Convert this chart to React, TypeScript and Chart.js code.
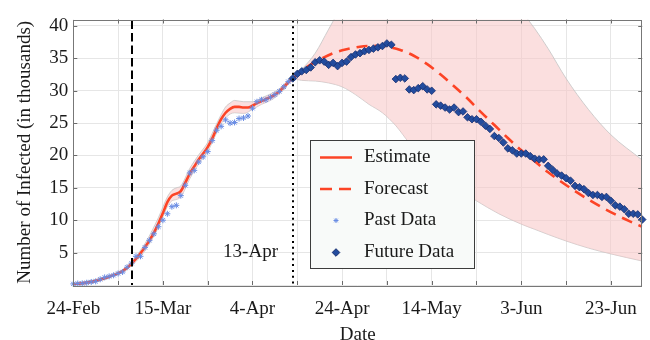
import React, { useEffect, useRef } from 'react';
import { Chart, registerables } from 'chart.js';

Chart.register(...registerables);

// ---------- data ----------
const xTickDays = [0, 20, 40, 60, 80, 100, 120];
const xTickLabels = ['24-Feb', '15-Mar', '4-Apr', '24-Apr', '14-May', '3-Jun', '23-Jun'];
const yTickValues = [5, 10, 15, 20, 25, 30, 35, 40];
const xMaxDay = 127;
const yMax = 41;

const lockdownDay = 13;
const forecastStartDay = 49;
const forecastStartLabel = '13-Apr';

const legendLabels = ['Estimate', 'Forecast', 'Past Data', 'Future Data'];

// Past data: days 0..49
const pastStartDay = 0;
const pastValues = [
  0.17, 0.23, 0.25, 0.35, 0.47, 0.56, 0.88, 1.18, 1.33, 1.5,
  1.78, 2.01, 2.74, 3.37, 4.43, 4.43, 5.8, 6.9, 7.9, 9.0,
  10.0, 11.0, 12.1, 12.3, 13.8, 15.4, 17.3, 17.7, 19.0, 19.8,
  20.6, 22.3, 23.9, 24.5, 25.5, 25.0, 25.1, 25.7, 25.8, 26.1,
  27.3, 28.3, 28.6, 28.6, 29.0, 29.4, 29.9, 30.6, 31.4, 31.9,
];

// Estimate: days 0..49
const estimateStartDay = 0;
const estimateValues = [
  0.1, 0.18, 0.27, 0.37, 0.5, 0.65, 0.85, 1.05, 1.28, 1.52,
  1.8, 2.15, 2.65, 3.3, 4.05, 4.9, 5.85, 6.9, 8.1, 9.5,
  11.1, 12.8, 13.8, 14.1, 14.5, 15.8, 17.2, 18.3, 19.4, 20.3,
  21.3, 22.6, 24.2, 25.6, 26.6, 27.2, 27.5, 27.5, 27.4, 27.4,
  27.7, 28.1, 28.4, 28.7, 29.0, 29.4, 29.9, 30.6, 31.3, 31.9,
];

const estBandDays = [0, 4, 8, 12, 16, 19, 21, 22, 23, 24, 26, 28, 30, 32, 33, 34, 35, 36, 38, 40, 42, 44, 46, 48, 49];
const estBandUpper = [0.3, 0.7, 1.5, 2.9, 6.4, 10.4, 13.6, 14.6, 15.0, 15.3, 18.0, 20.1, 22.0, 24.9, 26.3, 27.5, 28.1, 28.5, 28.3, 28.3, 28.9, 29.5, 30.3, 31.6, 31.9];
const estBandLower = [0.0, 0.3, 1.1, 2.4, 5.3, 8.9, 12.1, 13.0, 13.2, 13.6, 16.4, 18.7, 20.6, 23.5, 24.9, 25.8, 26.4, 26.6, 26.5, 27.1, 27.9, 28.5, 29.5, 31.0, 31.9];

// Forecast
const forecastDays = [49, 52, 55, 58, 61, 64, 67, 70, 73, 76, 79, 82, 85, 88, 91, 94, 97, 100, 103, 106, 109, 112, 115, 118, 121, 124, 127];
const forecastValues = [31.9, 33.6, 34.8, 35.8, 36.4, 36.8, 36.95, 36.8, 36.3, 35.4, 34.1, 32.5, 30.7, 28.8, 26.7, 24.7, 22.7, 20.8, 19.1, 17.4, 15.9, 14.5, 13.2, 12.0, 10.9, 9.9, 9.0];

const fcBandDays = [49, 51, 54, 57, 60, 63, 66, 69, 72, 75, 80, 85, 90, 95, 100, 103, 106, 110, 115, 120, 127];
const fcBandUpper = [31.9, 33.3, 35.8, 39.5, 43.2, 46.5, 49.3, 51.5, 53.2, 54.3, 54.7, 53.4, 50.6, 46.2, 42.3, 39.6, 36.5, 31.9, 27.1, 23.2, 19.3];
const fcBandLower = [31.9, 31.6, 31.5, 31.2, 30.6, 29.4, 27.9, 26.6, 24.6, 21.9, 17.6, 15.3, 13.0, 11.0, 9.4, 8.6, 7.8, 6.8, 5.7, 4.8, 3.7];

// Future data: days 49..127
const futureStartDay = 49;
const futureValues = [
  31.9, 32.6, 33.0, 33.2, 33.6, 34.4, 34.7, 34.5, 34.0, 34.3,
  33.8, 34.3, 34.5, 35.2, 35.6, 35.8, 36.1, 36.3, 36.5, 36.7,
  36.9, 37.3, 37.1,
  31.8, 32.0, 31.9, 30.2, 30.1, 30.4, 30.7, 30.2, 30.0,
  27.9, 27.7, 27.4, 27.1, 27.4, 26.7, 26.8, 25.9, 25.6, 25.6,
  25.2, 24.6, 24.1, 23.0, 22.7, 22.0, 21.1, 20.8, 20.3, 20.3,
  20.3, 19.9, 19.5, 19.4, 19.4, 18.4, 17.8, 17.2, 16.9, 16.5,
  16.1, 15.3, 15.1, 14.8, 14.2, 13.9, 13.9, 13.6, 13.6, 13.0,
  12.3, 12.1, 11.7, 11.0, 11.0, 10.9, 10.1,
];

// ---------- styles ----------
const FONT = "'Liberation Serif', 'Times New Roman', serif";
const TEXT = '#1a1a1a';
const GRID = '#e6e6e6';
const RED = 'rgb(252, 68, 38)';
const PINK = 'rgba(248, 196, 196, 0.55)';
const BAND_EDGE = '#c4c4c4';
const PAST = 'rgb(105, 140, 228)';
const FUTURE_FILL = 'rgb(35, 76, 158)';
const FUTURE_EDGE = 'rgb(22, 46, 112)';

const seq = (start: number, vals: number[]) => vals.map((v, i) => ({ x: start + i, y: v }));
const pair = (days: number[], vals: number[]) => vals.map((v, i) => ({ x: days[i], y: v }));

function drawStar(ctx: CanvasRenderingContext2D, x: number, y: number, r: number) {
  ctx.beginPath();
  ctx.moveTo(x, y - r); ctx.lineTo(x, y + r);
  ctx.moveTo(x - r, y); ctx.lineTo(x + r, y);
  const d = r * Math.SQRT1_2;
  ctx.moveTo(x - d, y - d); ctx.lineTo(x + d, y + d);
  ctx.moveTo(x - d, y + d); ctx.lineTo(x + d, y - d);
  ctx.stroke();
}

function drawDiamond(ctx: CanvasRenderingContext2D, x: number, y: number, r: number) {
  ctx.beginPath();
  ctx.moveTo(x, y - r); ctx.lineTo(x + r, y); ctx.lineTo(x, y + r); ctx.lineTo(x - r, y);
  ctx.closePath();
  ctx.fill();
  ctx.stroke();
}

const overlayPlugin = {
  id: 'overlay',
  afterDatasetsDraw(chart: any) {
    const { ctx, chartArea: a, scales } = chart;
    const xs = scales.x;
    ctx.save();
    ctx.strokeStyle = '#000';
    ctx.lineWidth = 2;
    const lx = Math.round(xs.getPixelForValue(lockdownDay));
    ctx.setLineDash([8.5, 4]);
    ctx.beginPath(); ctx.moveTo(lx, a.top + 1); ctx.lineTo(lx, a.bottom); ctx.stroke();
    const fx = Math.round(xs.getPixelForValue(forecastStartDay));
    ctx.setLineDash([2, 3.8]);
    ctx.beginPath(); ctx.moveTo(fx, a.top + 1); ctx.lineTo(fx, a.bottom); ctx.stroke();
    ctx.setLineDash([]);
    ctx.font = `19px ${FONT}`;
    ctx.fillStyle = TEXT;
    ctx.textAlign = 'right';
    ctx.textBaseline = 'middle';
    ctx.fillText(forecastStartLabel, fx - 15, a.bottom - 33);
    ctx.restore();
  },
  afterDraw(chart: any) {
    const { ctx, chartArea: a, scales } = chart;
    const xs = scales.x;
    const ys = scales.y;
    ctx.save();
    ctx.strokeStyle = '#6a6a6a';
    ctx.lineWidth = 1;
    ctx.beginPath();
    for (let d = 10; d < xMaxDay; d += 10) {
      const px = Math.round(xs.getPixelForValue(d)) + 0.5;
      ctx.moveTo(px, a.bottom); ctx.lineTo(px, a.bottom - 4);
      ctx.moveTo(px, a.top); ctx.lineTo(px, a.top + 4);
    }
    for (const v of yTickValues) {
      const py = Math.round(ys.getPixelForValue(v)) + 0.5;
      ctx.moveTo(a.left, py); ctx.lineTo(a.left + 4, py);
      ctx.moveTo(a.right, py); ctx.lineTo(a.right - 4, py);
    }
    ctx.stroke();
    ctx.strokeStyle = '#777';
    ctx.strokeRect(Math.round(a.left) + 0.5, Math.round(a.top) + 0.5, Math.round(a.right - a.left) - 1, Math.round(a.bottom - a.top));

    // legend
    const bx = 310.5, by = 140.5, bw = 164, bh = 128;
    ctx.fillStyle = '#f8faf9';
    ctx.fillRect(bx, by, bw, bh);
    ctx.strokeStyle = '#3c3c3c';
    ctx.lineWidth = 1;
    ctx.strokeRect(bx, by, bw, bh);
    const rows = [157.5, 189, 220.5, 252.5];
    const sx1 = 320, sx2 = 352, mx = 336, tx = 364;
    ctx.strokeStyle = RED;
    ctx.lineWidth = 2.5;
    ctx.beginPath(); ctx.moveTo(sx1, rows[0]); ctx.lineTo(sx2, rows[0]); ctx.stroke();
    ctx.setLineDash([12, 7]);
    ctx.beginPath(); ctx.moveTo(sx1, rows[1]); ctx.lineTo(sx2 + 1, rows[1]); ctx.stroke();
    ctx.setLineDash([]);
    ctx.strokeStyle = PAST;
    ctx.lineWidth = 1;
    drawStar(ctx, mx, rows[2], 2.5);
    ctx.fillStyle = FUTURE_FILL;
    ctx.strokeStyle = FUTURE_EDGE;
    drawDiamond(ctx, mx, rows[3], 3.8);
    ctx.fillStyle = TEXT;
    ctx.font = `19px ${FONT}`;
    ctx.textAlign = 'left';
    ctx.textBaseline = 'middle';
    legendLabels.forEach((t, i) => ctx.fillText(t, tx, rows[i]));
    ctx.restore();
  },
};

export default function App() {
  const ref = useRef<HTMLCanvasElement>(null);
  useEffect(() => {
    document.body.style.margin = '0';
    Chart.defaults.font.family = FONT;
    const chart = new Chart(ref.current as HTMLCanvasElement, {
      type: 'line',
      data: {
        datasets: [
          {
            label: 'fcLower', data: pair(fcBandDays, fcBandLower), order: 7,
            borderColor: BAND_EDGE, borderWidth: 0.8, pointRadius: 0, cubicInterpolationMode: 'monotone', fill: false,
          },
          {
            label: 'fcUpper', data: pair(fcBandDays, fcBandUpper), order: 6,
            borderColor: BAND_EDGE, borderWidth: 0.8, pointRadius: 0, cubicInterpolationMode: 'monotone',
            fill: '-1', backgroundColor: PINK,
          },
          {
            label: 'estLower', data: pair(estBandDays, estBandLower), order: 5,
            borderColor: BAND_EDGE, borderWidth: 0.8, pointRadius: 0, cubicInterpolationMode: 'monotone', fill: false,
          },
          {
            label: 'estUpper', data: pair(estBandDays, estBandUpper), order: 4,
            borderColor: BAND_EDGE, borderWidth: 0.8, pointRadius: 0, cubicInterpolationMode: 'monotone',
            fill: '-1', backgroundColor: PINK,
          },
          {
            label: legendLabels[0], data: seq(estimateStartDay, estimateValues), order: 3,
            borderColor: RED, borderWidth: 2.6, pointRadius: 0, cubicInterpolationMode: 'monotone', fill: false,
          },
          {
            label: legendLabels[1], data: pair(forecastDays, forecastValues), order: 2,
            borderColor: RED, borderWidth: 2.6, borderDash: [11, 7], pointRadius: 0,
            cubicInterpolationMode: 'monotone', fill: false,
          },
          {
            label: legendLabels[2], data: seq(pastStartDay, pastValues), order: 1,
            showLine: false, pointStyle: 'star', pointRadius: 3, borderWidth: 1,
            borderColor: PAST, backgroundColor: PAST, clip: false,
          },
          {
            label: legendLabels[3], data: seq(futureStartDay, futureValues), order: 0,
            showLine: false, pointStyle: 'rectRot', pointRadius: 3.8, borderWidth: 0.8,
            borderColor: FUTURE_EDGE, backgroundColor: FUTURE_FILL, clip: false,
          },
        ],
      },
      options: {
        animation: false,
        responsive: false,
        maintainAspectRatio: false,
        devicePixelRatio: 1,
        layout: { padding: { left: 0, right: 5, top: 19.5, bottom: 0 } },
        plugins: {
          legend: { display: false },
          tooltip: { enabled: false },
        },
        elements: { line: { tension: 0 } },
        scales: {
          x: {
            type: 'linear',
            min: 0,
            max: xMaxDay,
            afterFit: (s: any) => { s.height = 55; },
            grid: { color: GRID, drawTicks: false, lineWidth: 1 },
            border: { display: false },
            ticks: {
              stepSize: 10,
              includeBounds: false,
              autoSkip: false,
              maxRotation: 0,
              padding: 13,
              color: TEXT,
              font: { size: 19, family: FONT },
              callback: (v: any) => {
                const i = xTickDays.indexOf(Number(v));
                return i >= 0 ? xTickLabels[i] : '';
              },
            },
            title: {
              display: true,
              text: 'Date',
              color: TEXT,
              font: { size: 19, family: FONT, lineHeight: 1.2 },
              padding: { top: 0, bottom: -6 },
            },
          },
          y: {
            type: 'linear',
            min: 0,
            max: yMax,
            afterFit: (s: any) => { s.width = 73.3; },
            grid: { color: GRID, drawTicks: false, lineWidth: 1 },
            border: { display: false },
            ticks: {
              stepSize: 5,
              includeBounds: false,
              padding: 5,
              color: TEXT,
              font: { size: 19, family: FONT },
              callback: (v: any) => (yTickValues.includes(Number(v)) ? String(v) : ''),
            },
            title: {
              display: true,
              text: 'Number of Infected (in thousands)',
              color: TEXT,
              font: { size: 19, family: FONT, lineHeight: 1.2 },
              padding: { top: 14, bottom: 0 },
            },
          },
        },
      },
      plugins: [overlayPlugin],
    } as any);
    return () => chart.destroy();
  }, []);
  return (
    <canvas
      ref={ref}
      width={650}
      height={340}
      style={{ display: 'block', width: 650, height: 340 }}
    />
  );
}
